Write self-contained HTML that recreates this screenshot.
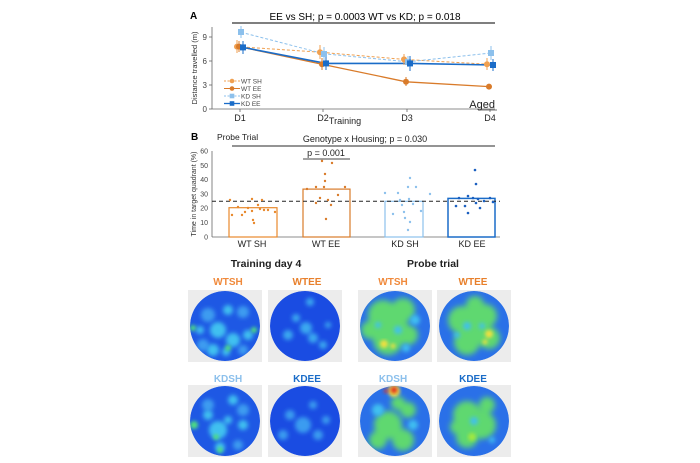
<!DOCTYPE html>
<html><head><meta charset="utf-8"><style>
html,body{margin:0;padding:0;background:#fff;}
svg{display:block;font-family:"Liberation Sans",Arial,sans-serif;}
</style></head><body>
<svg width="700" height="463" viewBox="0 0 700 463" xmlns="http://www.w3.org/2000/svg">
<defs>
<filter id="bl" x="-20%" y="-20%" width="140%" height="140%"><feGaussianBlur stdDeviation="3"/></filter>
<filter id="bl2" x="-20%" y="-20%" width="140%" height="140%"><feGaussianBlur stdDeviation="1.8"/></filter>
<filter id="bl3" x="-20%" y="-20%" width="140%" height="140%"><feGaussianBlur stdDeviation="2.2"/></filter>
<clipPath id="cc"><circle cx="37" cy="36" r="35"/></clipPath>
</defs>
<!-- Panel A -->
<text x="190" y="19" font-size="10" font-weight="bold">A</text>
<text x="365" y="20" font-size="10" text-anchor="middle">EE vs SH; p = 0.0003  WT vs KD; p = 0.018</text>
<line x1="232" y1="23" x2="495" y2="23" stroke="#555" stroke-width="1.5"/>
<line x1="212" y1="27" x2="212" y2="109" stroke="#666" stroke-width="0.8"/>
<line x1="212" y1="109" x2="495" y2="109" stroke="#666" stroke-width="0.8"/>
<g font-size="8" fill="#444" text-anchor="end">
<text x="207" y="40">9</text><text x="207" y="64">6</text><text x="207" y="88">3</text><text x="207" y="112">0</text></g>
<g stroke="#666" stroke-width="0.8"><line x1="209" y1="37" x2="212" y2="37"/><line x1="209" y1="61" x2="212" y2="61"/><line x1="209" y1="85" x2="212" y2="85"/><line x1="209" y1="109" x2="212" y2="109"/>
<line x1="240" y1="109" x2="240" y2="112"/><line x1="323" y1="109" x2="323" y2="112"/><line x1="407" y1="109" x2="407" y2="112"/><line x1="490" y1="109" x2="490" y2="112"/></g>
<text transform="translate(197,68) rotate(-90)" font-size="7.5" text-anchor="middle" fill="#333">Distance travelled (m)</text>
<g font-size="9" fill="#222" text-anchor="middle"><text x="240" y="121">D1</text><text x="323" y="121">D2</text><text x="407" y="121">D3</text><text x="490" y="121">D4</text></g>
<text x="345" y="124" font-size="9" text-anchor="middle" fill="#222">Training</text>
<text x="495" y="108" font-size="11" text-anchor="end" fill="#222">Aged</text>
<line x1="478" y1="110" x2="497" y2="110" stroke="#444" stroke-width="0.8"/>
<polyline points="237,46.6 320,52.2 404,59.4 487,64.2" fill="none" stroke="#f0a050" stroke-width="1" stroke-dasharray="3,2"/>
<polyline points="239,46.6 322,64.2 406,81.8 489,86.6" fill="none" stroke="#d97b2a" stroke-width="1.3"/>
<polyline points="241,32.2 324,53.8 408,61.8 491,53" fill="none" stroke="#8cc0ec" stroke-width="1" stroke-dasharray="3,2"/>
<polyline points="243,47.4 326,63.4 410,63.4 493,65" fill="none" stroke="#1a6cc8" stroke-width="1.6"/>
<g stroke="#f0a050" stroke-width="1"><line x1="237" y1="40" x2="237" y2="53"/><line x1="320" y1="45" x2="320" y2="59"/><line x1="404" y1="54" x2="404" y2="65"/><line x1="487" y1="58" x2="487" y2="70"/></g>
<g fill="#f0a050"><circle cx="237" cy="46.6" r="3"/><circle cx="320" cy="52.2" r="3"/><circle cx="404" cy="59.4" r="3"/><circle cx="487" cy="64.2" r="3"/></g>
<g stroke="#d97b2a" stroke-width="1"><line x1="239" y1="41" x2="239" y2="52"/><line x1="322" y1="58" x2="322" y2="70"/><line x1="406" y1="77" x2="406" y2="86"/></g>
<g fill="#d97b2a"><circle cx="239" cy="46.6" r="3"/><circle cx="322" cy="64.2" r="3"/><circle cx="406" cy="81.8" r="3"/><circle cx="489" cy="86.6" r="3"/></g>
<g stroke="#8cc0ec" stroke-width="1"><line x1="241" y1="26" x2="241" y2="38"/><line x1="324" y1="47" x2="324" y2="60"/><line x1="408" y1="56" x2="408" y2="67"/><line x1="491" y1="46" x2="491" y2="60"/></g>
<g fill="#8cc0ec"><rect x="238" y="29" width="6" height="6"/><rect x="321" y="51" width="6" height="6"/><rect x="405" y="59" width="6" height="6"/><rect x="488" y="50" width="6" height="6"/></g>
<g stroke="#1a6cc8" stroke-width="1"><line x1="243" y1="41" x2="243" y2="54"/><line x1="326" y1="57" x2="326" y2="70"/><line x1="410" y1="56" x2="410" y2="71"/><line x1="493" y1="59" x2="493" y2="71"/></g>
<g fill="#1a6cc8"><rect x="240" y="44.4" width="6" height="6"/><rect x="323" y="60.4" width="6" height="6"/><rect x="407" y="60.4" width="6" height="6"/><rect x="490" y="62" width="6" height="6"/></g>
<g font-size="6.5" fill="#444">
<line x1="224" y1="81" x2="240" y2="81" stroke="#f0a050" stroke-dasharray="2,1.5"/><circle cx="232" cy="81" r="2.3" fill="#f0a050"/><text x="241" y="83.5">WT SH</text>
<line x1="224" y1="88.5" x2="240" y2="88.5" stroke="#d97b2a"/><circle cx="232" cy="88.5" r="2.3" fill="#d97b2a"/><text x="241" y="91">WT EE</text>
<line x1="224" y1="96" x2="240" y2="96" stroke="#8cc0ec" stroke-dasharray="2,1.5"/><rect x="229.7" y="93.7" width="4.6" height="4.6" fill="#8cc0ec"/><text x="241" y="98.5">KD SH</text>
<line x1="224" y1="103.5" x2="240" y2="103.5" stroke="#1a6cc8" stroke-width="1.3"/><rect x="229.7" y="101.2" width="4.6" height="4.6" fill="#1a6cc8"/><text x="241" y="106">KD EE</text>
</g>
<!-- Panel B -->
<text x="191" y="140" font-size="10" font-weight="bold">B</text>
<text x="217" y="140" font-size="8.5" fill="#222">Probe Trial</text>
<text x="365" y="142" font-size="9" text-anchor="middle" fill="#222">Genotype x Housing; p = 0.030</text>
<line x1="232" y1="146" x2="495" y2="146" stroke="#555" stroke-width="1.3"/>
<text x="326" y="156" font-size="9" text-anchor="middle" fill="#222">p = 0.001</text>
<line x1="303" y1="159" x2="350" y2="159" stroke="#444" stroke-width="1"/>
<line x1="212" y1="151" x2="212" y2="237" stroke="#666" stroke-width="0.8"/>
<line x1="212" y1="237" x2="500" y2="237" stroke="#666" stroke-width="0.8"/>
<g font-size="7" fill="#444" text-anchor="end">
<text x="208" y="153.5">60</text><text x="208" y="167.8">50</text><text x="208" y="182">40</text><text x="208" y="196.3">30</text><text x="208" y="210.6">20</text><text x="208" y="224.8">10</text><text x="208" y="239.5">0</text></g>
<text transform="translate(196,194) rotate(-90)" font-size="7" text-anchor="middle" fill="#333">Time in target quadrant (%)</text>
<rect x="229" y="207.7" width="48" height="29.3" fill="none" stroke="#e8892c" stroke-width="1.2"/>
<rect x="303" y="189.1" width="47" height="47.9" fill="none" stroke="#d97b2a" stroke-width="1.2"/>
<rect x="385" y="201.3" width="38" height="35.7" fill="none" stroke="#8cc0ec" stroke-width="1.2"/>
<rect x="448" y="198.4" width="47" height="38.6" fill="none" stroke="#1a6cc8" stroke-width="1.5"/>
<line x1="212" y1="201.3" x2="500" y2="201.3" stroke="#222" stroke-width="1" stroke-dasharray="4,3"/>
<g fill="#e8892c">
<circle cx="232" cy="215" r="1.2"/><circle cx="238" cy="207" r="1.2"/><circle cx="242" cy="215" r="1.2"/><circle cx="248" cy="208" r="1.2"/><circle cx="252" cy="199" r="1.2"/><circle cx="252" cy="211" r="1.2"/><circle cx="253" cy="220" r="1.2"/><circle cx="254" cy="223" r="1.2"/><circle cx="258" cy="205" r="1.2"/><circle cx="260" cy="209" r="1.2"/><circle cx="264" cy="210" r="1.2"/><circle cx="268" cy="210" r="1.2"/><circle cx="275" cy="212" r="1.2"/><circle cx="230" cy="200" r="1.2"/><circle cx="262" cy="200" r="1.2"/><circle cx="245" cy="212" r="1.2"/></g>
<g fill="#d97b2a">
<circle cx="307" cy="189" r="1.2"/><circle cx="316" cy="187" r="1.2"/><circle cx="322" cy="161" r="1.2"/><circle cx="332" cy="163" r="1.2"/><circle cx="325" cy="174" r="1.2"/><circle cx="325" cy="181" r="1.2"/><circle cx="324" cy="187" r="1.2"/><circle cx="320" cy="198" r="1.2"/><circle cx="328" cy="200" r="1.2"/><circle cx="316" cy="203" r="1.2"/><circle cx="331" cy="205" r="1.2"/><circle cx="338" cy="195" r="1.2"/><circle cx="345" cy="187" r="1.2"/><circle cx="326" cy="219" r="1.2"/></g>
<g fill="#8cc0ec">
<circle cx="385" cy="193" r="1.2"/><circle cx="398" cy="193" r="1.2"/><circle cx="393" cy="214" r="1.2"/><circle cx="400" cy="200" r="1.2"/><circle cx="402" cy="205" r="1.2"/><circle cx="404" cy="212" r="1.2"/><circle cx="408" cy="187" r="1.2"/><circle cx="410" cy="178" r="1.2"/><circle cx="409" cy="199" r="1.2"/><circle cx="410" cy="222" r="1.2"/><circle cx="408" cy="230" r="1.2"/><circle cx="413" cy="204" r="1.2"/><circle cx="416" cy="187" r="1.2"/><circle cx="421" cy="211" r="1.2"/><circle cx="430" cy="194" r="1.2"/><circle cx="405" cy="218" r="1.2"/></g>
<g fill="#1a5fc0">
<circle cx="456" cy="206" r="1.3"/><circle cx="459" cy="198" r="1.3"/><circle cx="465" cy="206" r="1.3"/><circle cx="468" cy="196" r="1.3"/><circle cx="468" cy="213" r="1.3"/><circle cx="473" cy="198" r="1.3"/><circle cx="475" cy="170" r="1.3"/><circle cx="476" cy="184" r="1.3"/><circle cx="476" cy="203" r="1.3"/><circle cx="478" cy="199" r="1.3"/><circle cx="480" cy="208" r="1.3"/><circle cx="484" cy="201" r="1.3"/><circle cx="490" cy="198" r="1.3"/><circle cx="493" cy="202" r="1.3"/></g>
<g font-size="9" fill="#222" text-anchor="middle"><text x="252" y="247">WT SH</text><text x="326" y="247">WT EE</text><text x="405" y="247">KD SH</text><text x="472" y="247">KD EE</text></g>
<text x="266" y="267" font-size="10.5" font-weight="bold" text-anchor="middle" fill="#222">Training day 4</text>
<text x="433" y="267" font-size="10.5" font-weight="bold" text-anchor="middle" fill="#222">Probe trial</text>
<g font-size="10" font-weight="bold" text-anchor="middle">
<text x="228" y="285" fill="#f08a3c">WTSH</text><text x="307" y="285" fill="#e8802c">WTEE</text>
<text x="393" y="285" fill="#f08a3c">WTSH</text><text x="473" y="285" fill="#e8802c">WTEE</text>
<text x="228" y="382" fill="#8cc0ec">KDSH</text><text x="307" y="382" fill="#1a6cc8">KDEE</text>
<text x="393" y="382" fill="#8cc0ec">KDSH</text><text x="473" y="382" fill="#1a6cc8">KDEE</text></g>
<!-- heatmaps -->
<g transform="translate(188,290)"><rect width="74" height="72" fill="#ececec"/><g clip-path="url(#cc)"><circle cx="37" cy="36" r="35" fill="#1e58e4"/>
<g filter="url(#bl3)" fill="#3c9cf0"><circle cx="20" cy="25" r="7"/><circle cx="55" cy="22" r="6"/><circle cx="15" cy="55" r="6"/><circle cx="55" cy="60" r="5"/></g>
<g filter="url(#bl3)" fill="#40c0f0"><circle cx="30" cy="40" r="8"/><circle cx="45" cy="50" r="7"/><circle cx="40" cy="20" r="5"/><circle cx="60" cy="45" r="5"/><circle cx="25" cy="60" r="6"/><circle cx="12" cy="40" r="4"/><circle cx="38" cy="62" r="4"/></g>
<g filter="url(#bl2)" fill="#50e080"><circle cx="5" cy="38" r="3"/><circle cx="66" cy="40" r="3"/><circle cx="40" cy="58" r="3"/></g></g></g>
<g transform="translate(268,290)"><rect width="74" height="72" fill="#ececec"/><g clip-path="url(#cc)"><circle cx="37" cy="36" r="35" fill="#1a4ce2"/>
<g filter="url(#bl3)" fill="#3aa8f0"><circle cx="38" cy="38" r="6"/><circle cx="45" cy="48" r="5"/><circle cx="20" cy="45" r="5"/><circle cx="42" cy="12" r="4"/><circle cx="55" cy="55" r="4"/><circle cx="28" cy="28" r="4"/><circle cx="60" cy="35" r="3"/></g></g></g>
<g transform="translate(358,290)"><rect width="74" height="72" fill="#ececec"/><g clip-path="url(#cc)"><circle cx="37" cy="36" r="35" fill="#2a70e8"/>
<g filter="url(#bl)" fill="#5ed870"><circle cx="25" cy="25" r="15"/><circle cx="45" cy="20" r="12"/><circle cx="30" cy="50" r="15"/><circle cx="50" cy="45" r="10"/><circle cx="12" cy="40" r="9"/><circle cx="40" cy="36" r="10"/></g>
<g filter="url(#bl3)" fill="#40c0f0"><circle cx="57" cy="30" r="5"/><circle cx="40" cy="40" r="4"/><circle cx="20" cy="35" r="3"/><circle cx="48" cy="58" r="4"/></g>
<g filter="url(#bl2)" fill="#f0e040"><circle cx="26" cy="54" r="4"/><circle cx="35" cy="56" r="2.5"/></g></g></g>
<g transform="translate(437,290)"><rect width="74" height="72" fill="#ececec"/><g clip-path="url(#cc)"><circle cx="37" cy="36" r="35" fill="#2a70e8"/>
<g filter="url(#bl)" fill="#5ed870"><circle cx="25" cy="30" r="14"/><circle cx="48" cy="26" r="12"/><circle cx="30" cy="52" r="13"/><circle cx="52" cy="48" r="11"/><circle cx="38" cy="15" r="9"/><circle cx="37" cy="38" r="10"/></g>
<g filter="url(#bl3)" fill="#40c0f0"><circle cx="30" cy="36" r="4"/><circle cx="45" cy="36" r="3"/><circle cx="20" cy="45" r="3"/></g>
<g filter="url(#bl2)" fill="#f0e040"><circle cx="52" cy="44" r="4"/><circle cx="48" cy="52" r="2.5"/></g></g></g>
<g transform="translate(188,385)"><rect width="74" height="72" fill="#ececec"/><g clip-path="url(#cc)"><circle cx="37" cy="36" r="35" fill="#1e58e4"/>
<g filter="url(#bl3)" fill="#3c9cf0"><circle cx="20" cy="20" r="6"/><circle cx="55" cy="25" r="6"/><circle cx="50" cy="60" r="5"/></g>
<g filter="url(#bl3)" fill="#40c0f0"><circle cx="30" cy="45" r="9"/><circle cx="45" cy="15" r="5"/><circle cx="20" cy="30" r="5"/><circle cx="55" cy="40" r="5"/><circle cx="32" cy="62" r="5"/><circle cx="40" cy="35" r="4"/></g>
<g filter="url(#bl2)" fill="#50e080"><circle cx="6" cy="40" r="4"/><circle cx="32" cy="65" r="3"/><circle cx="28" cy="52" r="3"/></g></g></g>
<g transform="translate(268,385)"><rect width="74" height="72" fill="#ececec"/><g clip-path="url(#cc)"><circle cx="37" cy="36" r="35" fill="#1a4ce2"/>
<g filter="url(#bl3)" fill="#3a9cf0"><circle cx="35" cy="40" r="8"/><circle cx="22" cy="30" r="5"/><circle cx="50" cy="50" r="5"/><circle cx="15" cy="50" r="5"/><circle cx="45" cy="20" r="4"/><circle cx="58" cy="35" r="4"/></g></g></g>
<g transform="translate(358,385)"><rect width="74" height="72" fill="#ececec"/><g clip-path="url(#cc)"><circle cx="37" cy="36" r="35" fill="#2a70e8"/>
<g filter="url(#bl)" fill="#5ed870"><circle cx="30" cy="40" r="14"/><circle cx="45" cy="55" r="11"/><circle cx="20" cy="55" r="9"/><circle cx="50" cy="25" r="8"/><circle cx="40" cy="18" r="7"/></g>
<g filter="url(#bl3)" fill="#40c0f0"><circle cx="20" cy="25" r="6"/><circle cx="55" cy="40" r="5"/></g>
<g filter="url(#bl2)" fill="#f0e040"><circle cx="36" cy="6" r="6"/></g>
<g filter="url(#bl2)" fill="#e03020"><circle cx="36" cy="5" r="3.5"/><circle cx="28" cy="6" r="2"/></g></g></g>
<g transform="translate(437,385)"><rect width="74" height="72" fill="#ececec"/><g clip-path="url(#cc)"><circle cx="37" cy="36" r="35" fill="#2a70e8"/>
<g filter="url(#bl)" fill="#5ed870"><circle cx="30" cy="30" r="14"/><circle cx="45" cy="40" r="14"/><circle cx="30" cy="52" r="11"/><circle cx="50" cy="20" r="8"/><circle cx="20" cy="42" r="7"/></g>
<g filter="url(#bl3)" fill="#40c0f0"><circle cx="37" cy="36" r="4"/><circle cx="55" cy="55" r="3"/></g>
<g filter="url(#bl2)" fill="#a0e840"><circle cx="35" cy="52" r="4"/></g></g></g>
</svg>
</body></html>
